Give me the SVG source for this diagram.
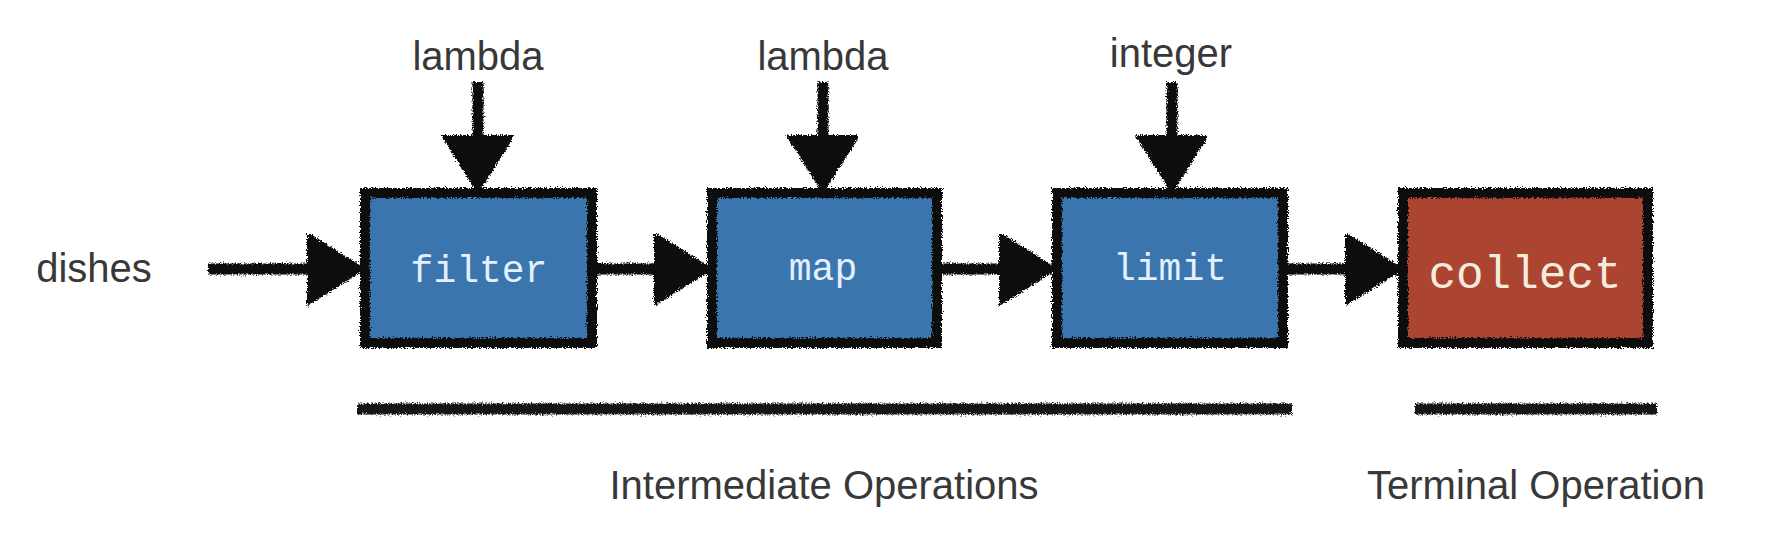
<svg xmlns="http://www.w3.org/2000/svg" width="1774" height="560" viewBox="0 0 1774 560">
<style>
.lbl{font-family:"Liberation Sans",Arial,sans-serif;font-size:40px;fill:#383838;text-anchor:middle}
.op{font-family:"Liberation Mono","Courier New",monospace;font-size:38px;fill:#e4f0ff;text-anchor:middle}
.term{font-family:"Liberation Mono","Courier New",monospace;font-size:46px;fill:#f7ebdc;text-anchor:middle}
.fillB{fill:#3b75ad}
.fillR{fill:#ab4430}
.edge{fill:none;stroke:#0c0c0c;stroke-width:10}
.wire{stroke:#0c0c0c;stroke-width:11;fill:none}
.bar{stroke:#151515;stroke-width:11;fill:none}
</style>
<defs>
<filter id="rough" filterUnits="userSpaceOnUse" x="0" y="0" width="1774" height="560">
<feTurbulence type="fractalNoise" baseFrequency="0.8" numOctaves="2" seed="3" result="n"/>
<feDisplacementMap in="SourceGraphic" in2="n" scale="6" xChannelSelector="R" yChannelSelector="G"/>
</filter>
<marker id="ah" markerUnits="userSpaceOnUse" markerWidth="60" markerHeight="72" viewBox="0 0 56 70" refX="10" refY="34" orient="auto">
<path d="M0,0 L54,34 L0,68 Z" fill="#0c0c0c" stroke="#0c0c0c" stroke-width="3" stroke-linejoin="round"/>
</marker>
</defs>

<g id="connectors" filter="url(#rough)">
<line class="wire" x1="208" y1="269" x2="318" y2="269" marker-end="url(#ah)"/>
<line class="wire" x1="597" y1="269" x2="665" y2="269" marker-end="url(#ah)"/>
<line class="wire" x1="942" y1="269" x2="1010" y2="269" marker-end="url(#ah)"/>
<line class="wire" x1="1288" y1="269" x2="1356" y2="269" marker-end="url(#ah)"/>
<line class="wire" x1="478" y1="82" x2="478" y2="146" marker-end="url(#ah)"/>
<line class="wire" x1="823" y1="82" x2="823" y2="146" marker-end="url(#ah)"/>
<line class="wire" x1="1172" y1="82" x2="1172" y2="146" marker-end="url(#ah)"/>
</g>

<g id="dishes"><text class="lbl" x="94" y="282">dishes</text></g>
<g id="lambda1"><text class="lbl" x="478" y="70">lambda</text></g>
<g id="lambda2"><text class="lbl" x="823" y="70">lambda</text></g>
<g id="integer"><text class="lbl" x="1171" y="67">integer</text></g>

<g id="filter">
<rect class="fillB" x="365" y="193" width="227" height="150"/>
<rect class="edge" x="365" y="193" width="227" height="150" filter="url(#rough)"/>
<text class="op" x="479" y="282">filter</text>
</g>
<g id="map">
<rect class="fillB" x="712" y="193" width="225" height="150"/>
<rect class="edge" x="712" y="193" width="225" height="150" filter="url(#rough)"/>
<text class="op" x="823" y="280">map</text>
</g>
<g id="limit">
<rect class="fillB" x="1057" y="193" width="226" height="150"/>
<rect class="edge" x="1057" y="193" width="226" height="150" filter="url(#rough)"/>
<text class="op" x="1170" y="280">limit</text>
</g>
<g id="collect">
<rect class="fillR" x="1403" y="193" width="245" height="150"/>
<rect class="edge" x="1403" y="193" width="245" height="150" filter="url(#rough)"/>
<text class="term" x="1525" y="288">collect</text>
</g>

<g id="intermediate">
<line class="bar" x1="357" y1="409" x2="1292" y2="409" filter="url(#rough)"/>
<text class="lbl" x="824" y="499">Intermediate Operations</text>
</g>
<g id="terminal">
<line class="bar" x1="1415" y1="409" x2="1657" y2="409" filter="url(#rough)"/>
<text class="lbl" x="1536" y="499">Terminal Operation</text>
</g>
</svg>
